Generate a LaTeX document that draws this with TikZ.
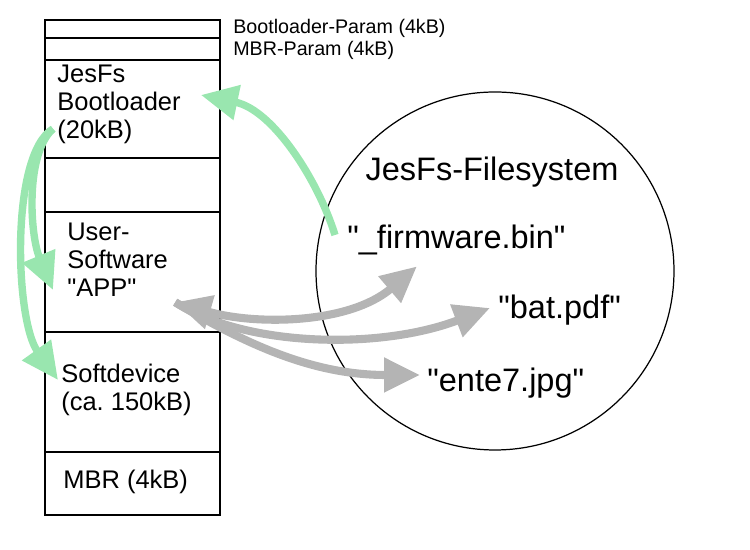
\documentclass[tikz,border=0pt]{standalone}
\usepackage{fontspec}
\setmainfont{Liberation Sans}[Ligatures=TeXOff]
\usetikzlibrary{calc}
\usetikzlibrary{arrows.meta}
\definecolor{flashgreen}{RGB}{153,230,175}
\definecolor{filegray}{RGB}{180,180,180}
\frenchspacing

\begin{document}
\begin{tikzpicture}[
    memtext/.style={anchor=west,align=left,inner sep=0pt,font=\fontsize{14.5}{16}\selectfont},
    smalltext/.style={anchor=west,inner sep=0pt,font=\fontsize{11.2}{13}\selectfont},
    filetext/.style={anchor=west,inner sep=0pt,font=\fontsize{18.5}{22}\selectfont},
    loadarrow/.style={line width=4.2pt,flashgreen,-{Triangle[length=7.4mm,width=6.8mm]}},
    accessarrow/.style={line width=4.6pt,filegray,-{Triangle[length=7.2mm,width=6.6mm]}}]
    \useasboundingbox (0,0) rectangle (15,11);
    % flash layout
    \draw [line width=0.9pt] (0.9,0.7) rectangle (4.4,10.6);
    \foreach \y in {10.24,9.8,7.84,6.76,4.36,1.96}
        \draw [line width=0.9pt] (0.9,\y) -- (4.4,\y);
    \node [smalltext] (bparam) at (4.66,10.44) {Bootloader-Param (4kB)};
    \node [smalltext] (mparam) at (4.66,10.0) {MBR-Param (4kB)};
    \node [memtext] (boot) at (1.14,8.92) {JesFs\\Bootloader\\(20kB)};
    \node [memtext] (app) at (1.34,5.8) {User-\\Software\\"APP"};
    \node [memtext] (soft) at (1.22,3.2) {Softdevice\\(ca. 150kB)};
    \node [memtext] (mbr) at (1.26,1.36) {MBR (4kB)};
    % filesystem
    \draw [line width=0.7pt] (9.9,5.58) circle (3.58);
    \node [inner sep=0pt,font=\fontsize{18.5}{22}\selectfont] (fs) at (9.84,7.56) {JesFs-Filesystem};
    \node [filetext] (fw) at (6.94,6.2) {"\_firmware.bin"};
    \node [filetext] (bat) at (9.96,4.8) {"bat.pdf"};
    \node [filetext] (ente) at (8.54,3.34) {"ente7.jpg"};
    % update path
    \draw [loadarrow] ($(fw.west)+(-0.24,0.1)$) .. controls +(-0.34,1.1) and +(1.44,-0.3) .. ($(boot.east)+(0.4,0.18)$);
    \draw [loadarrow] ($(boot.south west)+(-0.08,0.3)$) .. controls +(-0.56,-0.5) and +(-0.46,1.1) .. ($(app.west)+(-0.28,-0.6)$);
    \draw [loadarrow] ($(boot.south west)+(-0.08,0.3)$) .. controls +(-0.86,-0.5) and +(-0.86,1.2) .. ($(soft.west)+(-0.06,0.2)$);
    % file access
    \draw [accessarrow,{Triangle[length=7.2mm,width=6.6mm]}-{Triangle[length=7.2mm,width=6.6mm]}] ($(app.south east)+(0.14,-0.1)$) .. controls +(1.6,-0.46) and +(-1.36,-1.16) .. ($(fw.south)+(-0.79,-0.22)$);
    \draw [accessarrow] ($(app.south east)+(0.14,-0.1)$) .. controls +(1.4,-0.9) and +(-2.2,-0.84) .. ($(bat.west)+(-0.16,0.04)$);
    \draw [accessarrow] ($(app.south east)+(0.14,-0.1)$) .. controls +(1.6,-0.96) and +(-2.0,0) .. ($(ente.west)+(-0.14,0.16)$);
\end{tikzpicture}
\end{document}
